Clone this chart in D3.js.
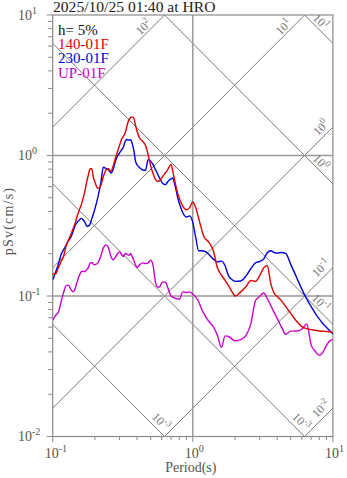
<!DOCTYPE html>
<html><head><meta charset="utf-8">
<script src="https://cdn.jsdelivr.net/npm/d3@7"></script>
<style>body{margin:0;background:#fff}svg{display:block}</style>
</head><body><svg id="c" width="347" height="478"></svg>
<script>
// ---------------- data ----------------
const periods = [0.10,0.105,0.11,0.115,0.12,0.125,0.13,0.135,0.14,0.145,0.15,0.155,0.16,0.165,0.17,0.175,0.18,0.185,0.19,0.195,
 0.20,0.21,0.22,0.23,0.24,0.25,0.26,0.27,0.28,0.29,0.30,0.31,0.32,0.33,0.34,0.35,0.36,0.37,0.38,0.39,0.40,
 0.42,0.44,0.46,0.48,0.50,0.52,0.54,0.56,0.58,0.60,0.62,0.64,0.66,0.68,0.70,0.72,0.74,0.76,0.78,0.80,
 0.85,0.90,0.95,1.0,1.05,1.1,1.15,1.2,1.3,1.4,1.5,1.6,1.7,1.8,1.9,2.0,2.2,2.4,2.6,2.8,3.0,3.2,3.4,3.6,3.8,4.0,
 4.3,4.6,5.0,5.5,6.0,6.5,7.0,7.5,8.0,8.5,9.0,9.5,10];
const sv140 = [0.144,0.144,0.160,0.176,0.194,0.229,0.252,0.275,0.302,0.332,0.374,0.411,0.447,0.497,0.562,0.651,0.732,0.804,0.804,0.700,
 0.651,0.583,0.608,0.708,0.788,0.804,0.771,0.838,0.950,1.064,1.181,1.303,1.374,1.457,1.643,1.799,1.859,1.884,1.832,1.643,1.489,
 1.316,1.257,1.177,1.012,0.847,0.744,0.679,0.654,0.663,0.693,0.724,0.757,0.788,0.835,0.864,0.771,0.677,0.595,0.538,0.499,
 0.435,0.411,0.426,0.467,0.424,0.359,0.304,0.264,0.242,0.211,0.158,0.141,0.129,0.118,0.108,0.100,0.107,0.117,0.129,0.127,0.139,0.158,0.165,0.123,0.105,0.0995,
 0.0924,0.0843,0.0752,0.0662,0.0606,0.0586,0.0576,0.0570,0.0564,0.0561,0.0559,0.0556,0.0548];
const sv230 = [0.130,0.148,0.170,0.198,0.215,0.231,0.249,0.263,0.289,0.319,0.336,0.348,0.357,0.348,0.334,0.314,0.315,0.326,0.354,0.383,
 0.417,0.504,0.630,0.825,0.809,0.792,0.751,0.796,0.906,0.990,1.042,1.096,1.150,1.269,1.299,1.284,1.295,1.206,1.077,0.913,0.860,
 0.814,0.789,0.785,0.935,0.912,0.861,0.798,0.741,0.690,0.647,0.625,0.620,0.648,0.669,0.682,0.693,0.631,0.567,0.503,0.459,
 0.390,0.365,0.372,0.334,0.260,0.210,0.210,0.209,0.198,0.183,0.175,0.177,0.164,0.139,0.131,0.127,0.128,0.139,0.157,0.172,0.176,0.183,0.203,0.210,0.204,0.202,
 0.204,0.201,0.168,0.136,0.112,0.0953,0.0841,0.0750,0.0685,0.0634,0.0598,0.0566,0.0538];
const svUP = [0.0677,0.0728,0.0770,0.0917,0.107,0.119,0.119,0.111,0.107,0.114,0.128,0.140,0.149,0.150,0.149,0.154,0.160,0.171,0.173,0.168,
 0.167,0.172,0.191,0.220,0.231,0.221,0.192,0.181,0.189,0.200,0.206,0.196,0.191,0.201,0.198,0.195,0.200,0.190,0.178,0.167,0.160,
 0.168,0.172,0.170,0.172,0.180,0.166,0.127,0.116,0.116,0.124,0.126,0.125,0.116,0.107,0.0997,0.0982,0.0968,0.0960,0.0953,0.0947,
 0.107,0.106,0.107,0.103,0.0982,0.0913,0.0819,0.0750,0.0661,0.0604,0.0523,0.0430,0.0520,0.0515,0.0495,0.0480,0.0490,0.0525,0.0638,0.0926,0.0992,0.105,0.0960,0.0855,0.0767,0.0693,
 0.0600,0.0534,0.0562,0.0563,0.0580,0.0632,0.0447,0.0403,0.0378,0.0399,0.0446,0.0479,0.0489];
const seriesNames = ["140-01F","230-01F","UP-01F"];
const seriesColors = ["#e00000","#0000dd","#cc00cc"];
const titleText = "2025/10/25 01:40 at HRO";
const dampingText = "h= 5%";
const xTickExps = [-1,0,1];
const yTickExps = [-2,-1,0,1];
const sdExps = [-3,-2,-1,0,1];          // displacement lines (cm)
const sdLabelText = ["-3","-3","-1","0","1"];
const saExps = [-2,-1,0,1,2];           // acceleration lines (cm/s^2)
const saLabelText = ["-2","-1","0","1","2"];

// ---------------- layout ----------------
const svg = d3.select("#c");
const L = 52.7, R = 332.9, T = 15, B = 436.5;
const x = d3.scaleLog().domain([0.1, 10]).range([L, R]);
const y = d3.scaleLog().domain([0.01, 10]).range([B, T]);
const gridCol = "#8a8a8a";
const font = "'Liberation Serif','Times New Roman',serif";

svg.append("defs").append("clipPath").attr("id","clip")
  .append("rect").attr("x",L).attr("y",T).attr("width",R-L).attr("height",B-T);

// tripartite lines
const TW = 2*Math.PI;
const diag = svg.append("g").attr("clip-path","url(#clip)")
  .attr("stroke","#7a7a7a").attr("stroke-width",1).attr("fill","none");
sdExps.forEach(k => {
  const sd = Math.pow(10,k);
  diag.append("line").attr("x1",x(0.01)).attr("y1",y(TW*sd/0.01))
    .attr("x2",x(100)).attr("y2",y(TW*sd/100));
});
saExps.forEach(s => {
  const sa = Math.pow(10,s);
  diag.append("line").attr("x1",x(0.01)).attr("y1",y(sa*0.01/TW))
    .attr("x2",x(100)).attr("y2",y(sa*100/TW));
});

// gridlines
svg.append("line").attr("x1",x(1)).attr("x2",x(1)).attr("y1",T).attr("y2",B)
  .attr("stroke","#999").attr("stroke-width",1.5);
[0.1,1].forEach(v => svg.append("line").attr("x1",L).attr("x2",R).attr("y1",y(v)).attr("y2",y(v))
  .attr("stroke","#999").attr("stroke-width",1.5));

// frame
svg.append("rect").attr("x",L).attr("y",T).attr("width",R-L).attr("height",B-T)
  .attr("fill","none").attr("stroke",gridCol).attr("stroke-width",1.2);

function sup(sel, base, ex, efs, dy){
  sel.append("tspan").text(base);
  sel.append("tspan").attr("dy",-dy).attr("font-size",efs).text(ex);
}

// diagonal labels
const lab = svg.append("g").attr("font-family",font).attr("fill","#777").attr("font-size",12);
sdExps.forEach((k,i) => {
  const sd = Math.pow(10,k);
  let tEnd = Math.min(10, TW*sd/0.01);
  let px = x(tEnd), py = y(TW*sd/tEnd);
  const atRight = tEnd >= 10;
  const ox = atRight ? -12 : -3.5, oy = atRight ? -21.5 : -15;
  const t = lab.append("text").attr("text-anchor","middle").attr("dominant-baseline","central")
    .attr("transform",`translate(${px+ox},${py+oy}) rotate(45)`);
  sup(t,"10",sdLabelText[i],9,4);
});
saExps.forEach((s,i) => {
  const sa = Math.pow(10,s);
  let tEnd = Math.min(10, 10*TW/sa);
  let px = x(tEnd), py = y(sa*tEnd/TW);
  const atRight = tEnd >= 10;
  const ox = atRight ? -12 : -21, oy = atRight ? 0.5 : 12;
  const t = lab.append("text").attr("text-anchor","middle").attr("dominant-baseline","central")
    .attr("transform",`translate(${px+ox},${py+oy}) rotate(-45)`);
  sup(t,"10",saLabelText[i],9,4);
});

// ticks
const tk = svg.append("g").attr("stroke",gridCol).attr("stroke-width",1);
for (let e=-2; e<=0; e++) for (let m=1; m<=9; m++) {
  const v = m*Math.pow(10,e); const yy = y(v);
  tk.append("line").attr("x1",L).attr("x2",L-(m===1?6:4.5)).attr("y1",yy).attr("y2",yy);
}
tk.append("line").attr("x1",L).attr("x2",L-6).attr("y1",y(10)).attr("y2",y(10));
for (let e=-1; e<=0; e++) for (let m=1; m<=9; m++) {
  const v = m*Math.pow(10,e); const xx = x(v);
  tk.append("line").attr("x1",xx).attr("x2",xx).attr("y1",B).attr("y2",B+(m===1?5.5:3.5));
}
tk.append("line").attr("x1",x(10)).attr("x2",x(10)).attr("y1",B).attr("y2",B+5.5);

// tick labels
const tl = svg.append("g").attr("font-family",font).attr("fill","#555").attr("font-size",14);
yTickExps.forEach(e => {
  const t = tl.append("text").attr("x",18).attr("y",y(Math.pow(10,e))+4.5);
  sup(t,"10",String(e),10,6);
});
xTickExps.forEach(e => {
  const t = tl.append("text").attr("x",x(Math.pow(10,e))-8).attr("y",458);
  sup(t,"10",String(e),10,6);
});

// axis titles
svg.append("text").attr("x",x(1)-2).attr("y",471.5).attr("text-anchor","middle")
  .attr("font-family",font).attr("font-size",14).attr("fill","#555").text("Period(s)");
svg.append("text").attr("transform",`translate(13,221) rotate(-90)`).attr("text-anchor","middle")
  .attr("font-family",font).attr("font-size",14).style("letter-spacing","1.2px").attr("fill","#555").text("pSv(cm/s)");

// curves
const line = d3.line().x((d,i)=>x(periods[i])).y(d=>y(d)).curve(d3.curveMonotoneX);
const plotG = svg.append("g").attr("clip-path","url(#clip)");
[2,1,0].forEach(idx => {
  const s = [sv140, sv230, svUP][idx];
  plotG.append("path").datum(s).attr("d",line).attr("fill","none")
    .attr("stroke",seriesColors[idx]).attr("stroke-width",1.4).attr("stroke-linejoin","round");
});

// title & legend
svg.append("text").attr("x",53).attr("y",11.5).attr("font-family",font).attr("font-size",15.6)
  .attr("fill","#222").text(titleText);
const lg = svg.append("g").attr("font-family",font).attr("font-size",15);
lg.append("text").attr("x",58).attr("y",34.5).attr("fill","#111").text(dampingText);
seriesNames.forEach((n,i) => lg.append("text").attr("x",58).attr("y",48.8+i*14.4)
  .attr("fill",seriesColors[i]).text(n));
</script></body></html>
